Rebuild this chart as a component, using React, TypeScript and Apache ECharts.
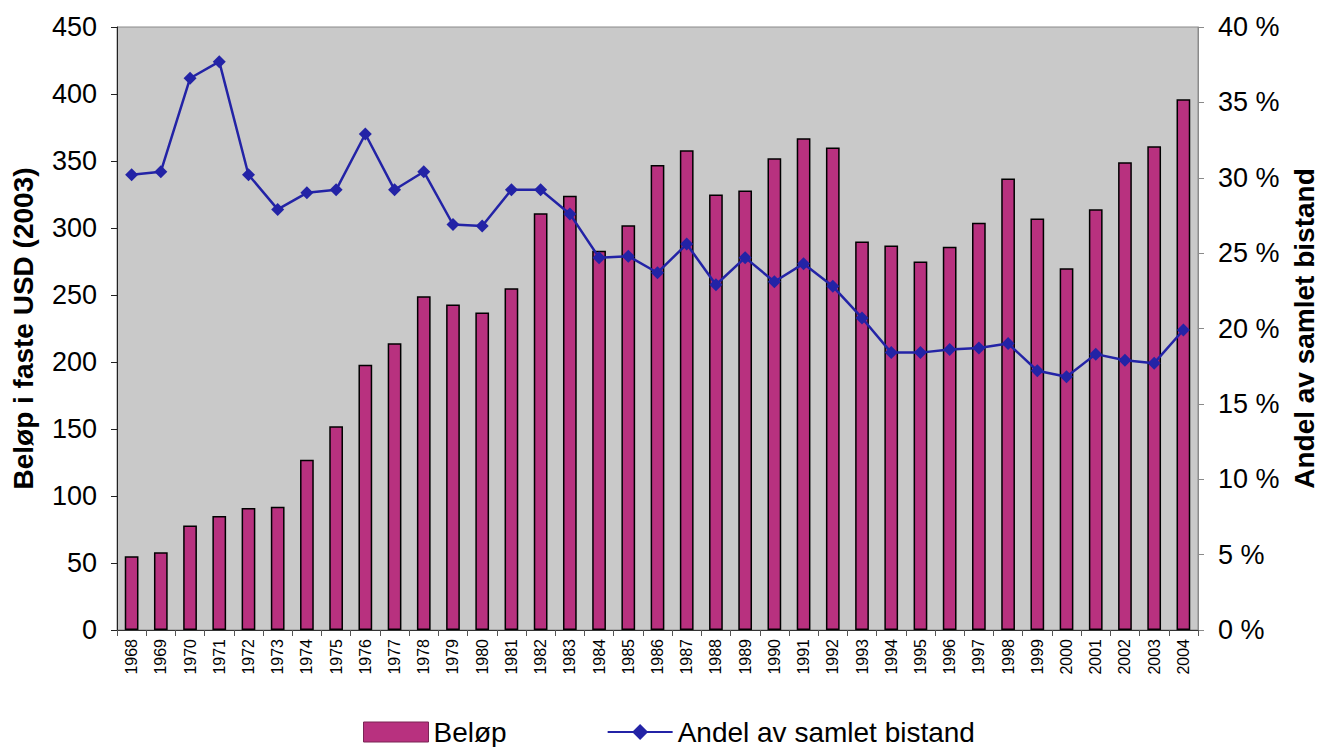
import React, { useEffect, useRef } from "react";
import * as echarts from "echarts";

const years = [
  "1968", "1969", "1970", "1971", "1972", "1973", "1974", "1975", "1976", "1977",
  "1978", "1979", "1980", "1981", "1982", "1983", "1984", "1985", "1986", "1987",
  "1988", "1989", "1990", "1991", "1992", "1993", "1994", "1995", "1996", "1997",
  "1998", "1999", "2000", "2001", "2002", "2003", "2004",
];

const belop = [
  55, 58, 78, 85, 91, 92, 127, 152, 198, 214,
  249, 243, 237, 255, 311, 324, 283, 302, 347, 358,
  325, 328, 352, 367, 360, 290, 287, 275, 286, 304,
  337, 307, 270, 314, 349, 361, 396,
];

const andel = [
  30.2, 30.4, 36.6, 37.7, 30.2, 27.9, 29.0, 29.2, 32.9, 29.2,
  30.4, 26.9, 26.8, 29.2, 29.2, 27.6, 24.7, 24.8, 23.7, 25.6,
  22.9, 24.7, 23.1, 24.3, 22.8, 20.7, 18.4, 18.4, 18.6, 18.7,
  19.0, 17.2, 16.8, 18.3, 17.9, 17.7, 19.9,
];

const FONT = "'Liberation Sans', Arial, sans-serif";

export default function App() {
  const ref = useRef<HTMLDivElement>(null);
  useEffect(() => {
    document.body.style.margin = "0";
    const chart = echarts.init(ref.current!, undefined, { renderer: "svg" });
    chart.setOption({
      animation: false,
      textStyle: { fontFamily: FONT },
      grid: {
        left: 117,
        right: 123,
        top: 27,
        bottom: 117,
        containLabel: false,
        outerBoundsMode: "none",
        show: true,
        backgroundColor: "#C9C9C9",
        borderColor: "#8a8a8a",
        borderWidth: 1,
      },
      legend: {
        left: 363,
        top: 718,
        itemWidth: 65,
        itemHeight: 20,
        itemGap: 100,
        padding: 0,
        textStyle: { fontSize: 28, lineHeight: 28, color: "#000", fontFamily: FONT },
        data: [
          { name: "Beløp", icon: "rect", itemStyle: { borderColor: "#7a2555", borderWidth: 1 } },
          { name: "Andel av samlet bistand" },
        ],
      },
      xAxis: {
        type: "category",
        data: years,
        boundaryGap: true,
        axisLine: { lineStyle: { color: "#333", width: 1 } },
        axisTick: { show: true, alignWithLabel: false, length: 6, lineStyle: { color: "#555" } },
        axisLabel: {
          rotate: 90,
          interval: 0,
          fontSize: 16,
          color: "#000",
          margin: 9,
          fontFamily: FONT,
        },
      },
      yAxis: [
        {
          type: "value",
          min: 0,
          max: 450,
          interval: 50,
          name: "Beløp i faste USD (2003)",
          nameLocation: "middle",
          nameGap: 80,
          nameRotate: 90,
          nameTextStyle: { fontSize: 28, fontWeight: "bold", color: "#000", fontFamily: FONT },
          axisLine: { show: true, lineStyle: { color: "#222", width: 1 } },
          axisTick: { show: true, length: 6, lineStyle: { color: "#222" } },
          splitLine: { show: false },
          axisLabel: { fontSize: 27, color: "#000", margin: 20, fontFamily: FONT },
        },
        {
          type: "value",
          min: 0,
          max: 40,
          interval: 5,
          name: "Andel av samlet bistand",
          nameLocation: "middle",
          nameGap: 92,
          nameRotate: 90,
          nameTextStyle: { fontSize: 28, fontWeight: "bold", color: "#000", fontFamily: FONT },
          axisLine: { show: true, lineStyle: { color: "#8a8a8a", width: 1 } },
          axisTick: { show: true, length: 6, lineStyle: { color: "#8a8a8a" } },
          splitLine: { show: false },
          axisLabel: {
            fontSize: 27,
            color: "#000",
            margin: 20,
            fontFamily: FONT,
            formatter: "{value} %",
          },
        },
      ],
      series: [
        {
          name: "Beløp",
          type: "bar",
          data: belop,
          barWidth: "47%",
          itemStyle: { color: "#B8317F", borderColor: "#000", borderWidth: 1.5 },
        },
        {
          name: "Andel av samlet bistand",
          type: "line",
          yAxisIndex: 1,
          data: andel,
          symbol: "diamond",
          symbolSize: 13,
          lineStyle: { color: "#2323A6", width: 2.5 },
          itemStyle: { color: "#2323A6" },
        },
      ],
    });
    return () => chart.dispose();
  }, []);
  return <div ref={ref} style={{ width: 1321, height: 747 }} />;
}
